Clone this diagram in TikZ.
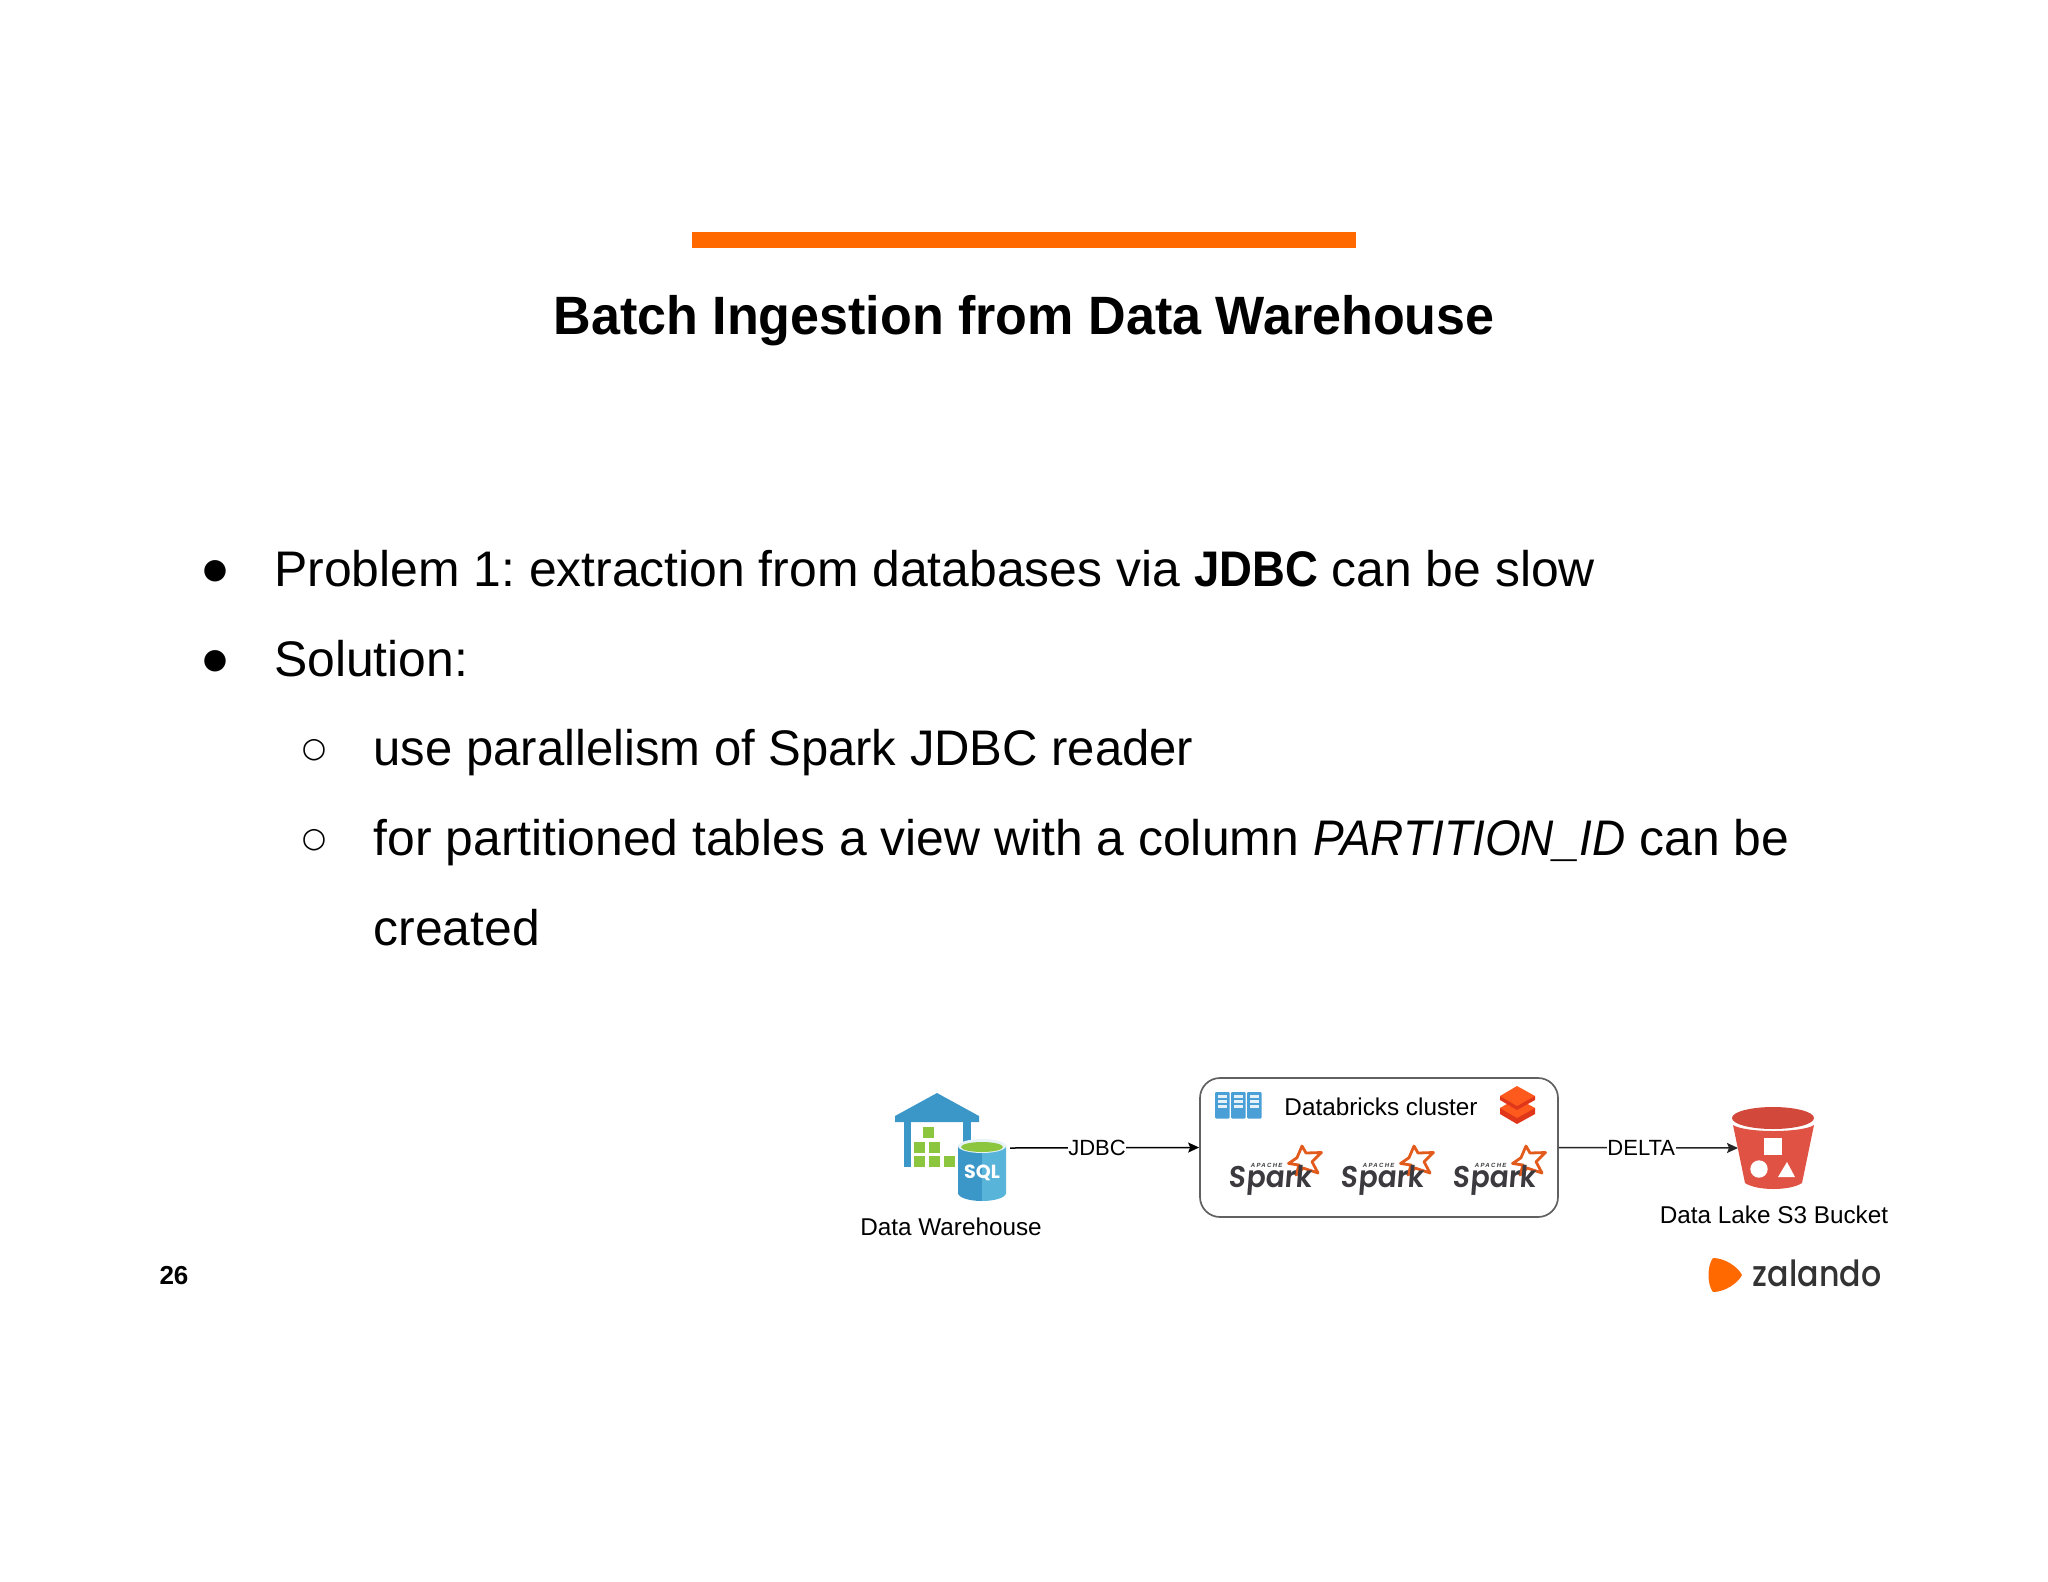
\documentclass[tikz,border=0pt]{standalone}
\usepackage{fontspec}
\setmainfont{Liberation Sans}[FakeStretch=0.997,BoldFeatures={FakeStretch=0.91},ItalicFeatures={FakeStretch=0.92}]
\newfontfamily\bodynarrow{Liberation Sans}[FakeStretch=0.98]
\newfontfamily\titlefont{Liberation Sans}[FakeStretch=0.964]
\newfontfamily\lblfont{Liberation Sans}
\newfontfamily\logofont{Poppins}
\newfontfamily\sparkfont{Poppins SemiBold}[FakeStretch=0.94,FakeSlant=0.08]
\newfontfamily\zalfont{Poppins Medium}[FakeStretch=0.88]
\newfontfamily\bulletfont{DejaVu Sans}
\newfontfamily\apachefont{Liberation Sans}[LetterSpace=22]
\frenchspacing
\usetikzlibrary{arrows.meta}
\definecolor{zorange}{HTML}{FF6900}
\definecolor{azure}{HTML}{3B97C8}
\definecolor{azurel}{HTML}{59B4D9}
\definecolor{rackblue}{HTML}{4A9FD6}
\definecolor{leaf}{HTML}{8CC63F}
\definecolor{bucketred}{HTML}{E05243}
\definecolor{bucketdark}{HTML}{D2493B}
\definecolor{sparkor}{HTML}{E25A1C}
\definecolor{sparkgr}{HTML}{3C3A3E}
\definecolor{dbtop}{HTML}{FF5A1E}
\definecolor{dbside}{HTML}{E0371A}
\tikzset{
  titletext/.style={font=\titlefont\fontsize{54}{54}\selectfont\bfseries,anchor=base},
  bodytext/.style={font=\fontsize{50}{50}\selectfont,anchor=base west,inner sep=0pt},
  bulletmark/.style={font=\bulletfont\fontsize{28}{28}\selectfont,inner sep=0pt},
  smalltext/.style={font=\lblfont\fontsize{24.3}{24.3}\selectfont,inner sep=0pt},
  conn/.style={line width=1.5pt,draw=black,-{Stealth[length=11pt,width=10pt,inset=2pt]}},
  connlabel/.style={font=\lblfont\fontsize{22}{22}\selectfont,fill=white,inner xsep=0.5pt,inner ysep=1pt},
  clusterbox/.style={draw=black!62,line width=1.7pt,rounded corners=20pt,minimum width=358pt,minimum height=139pt,inner sep=0pt},
  greenbox/.style={fill=leaf,draw=none,minimum size=11pt,inner sep=0pt},
  pics/sparklogo/.style={code={
    \draw[sparkor,line width=2.8pt,line join=round,fill=white]
      (34,-32) -- (38,-25) -- (53.5,-25.5) -- (44,-16.3) -- (50,-5) -- (35,-10) -- (28,-3) -- (31,-13) -- (20.5,-14.5) -- (29,-20.3) -- cycle;
    \node[font=\sparkfont\fontsize{30}{30}\selectfont,text=sparkgr,inner sep=0pt,anchor=base] (-word) at (2.5,9.5) {Spark};
    \node[font=\apachefont\fontsize{6}{6}\selectfont\bfseries\itshape,text=sparkgr,inner sep=0pt] (-apache) at (-1.3,-13) {APACHE};
  }},
  pics/serverrack/.style={code={
    \fill[rackblue,rounded corners=1pt] (0,0) rectangle (14.5,26.5);
    \foreach \r in {3,8,13}{\fill[white!85!rackblue] (2.5,\r) rectangle (12,\r+3);}
  }}
}
\begin{document}
\begin{tikzpicture}[x=1pt,y=-1pt]
\useasboundingbox (0,0) rectangle (2048,1582);
\fill[white] (0,0) rectangle (2048,1582);
\fill[zorange] (692,232) rectangle (1356,248);
\node[titletext] (title) at (1024,334) {Batch Ingestion from Data Warehouse};
% bullets
\node[bulletmark] (b1) at (215,571) {●};
\node[bulletmark] (b2) at (215,661) {●};
\node[bulletmark] (b3) at (314,750) {○};
\node[bulletmark] (b4) at (314,840) {○};
\node[bodytext] (l1) at (274,586) {Problem 1: extraction from databases via \textbf{JDBC} can be slow};
\node[bodytext] (l2) at (274,676) {Solution:};
\node[bodytext,font=\bodynarrow\fontsize{50}{50}\selectfont] (l3) at (373.5,765) {use parallelism of Spark JDBC reader};
\node[bodytext] (l4) at (373.5,855) {for partitioned tables a view with a column \textit{PARTITION\_ID} can be};
\node[bodytext] (l5) at (373.5,945) {created};
% data warehouse icon
\fill[azure] (937,1093) -- (979,1116) -- (979,1122) -- (895,1122) -- (895,1116) -- cycle;
\fill[azure] (904,1122) rectangle (911,1167);
\fill[azure] (963,1122) rectangle (971,1145);
\foreach \n/\cx/\cy in {ga/928/1132.5,gb/919/1147,gc/934/1147,gd/919/1161,ge/934/1161,gf/949/1161}{
  \node[greenbox] (\n) at (\cx,\cy) {};
}
\fill[azure] (982,1146) -- (958,1146) -- (958,1193) arc[start angle=180,end angle=90,x radius=24,y radius=8] -- cycle;
\fill[azurel] (982,1146) -- (1006,1146) -- (1006,1193) arc[start angle=0,end angle=90,x radius=24,y radius=8] -- cycle;
\fill[white!88!azure] (982,1146) ellipse[x radius=24,y radius=7];
\fill[leaf] (982,1147) ellipse[x radius=21,y radius=5];
\node[font=\logofont\fontsize{19}{19}\selectfont\bfseries,text=white,inner sep=0pt] (sql) at (982,1173) {SQL};
\coordinate (dwout) at (1010,1148);
\node[smalltext] (dwlabel) at (951,1227) {Data Warehouse};
% cluster
\node[clusterbox] (cluster) at (1379,1147.5) {};
\pic at (1215,1092) {serverrack};
\pic at (1231,1092) {serverrack};
\pic at (1247,1092) {serverrack};
\node[smalltext] (clusterlabel) at (1381,1107) {Databricks cluster};
% databricks icon
\fill[dbside] (1500,1108) -- (1500,1114) -- (1517,1124) -- (1535,1114) -- (1535,1108) -- cycle;
\fill[dbtop] (1500,1108) -- (1517,1098) -- (1535,1108) -- (1517,1118) -- cycle;
\fill[dbside] (1500,1096) -- (1500,1100) -- (1517,1110) -- (1535,1100) -- (1535,1096) -- cycle;
\fill[dbtop] (1517,1086) -- (1535,1096) -- (1517,1106) -- (1500,1096) -- cycle;
\pic (spa) at (1268,1178) {sparklogo};
\pic (spb) at (1380,1178) {sparklogo};
\pic (spc) at (1492,1178) {sparklogo};
% bucket
\fill[bucketred] (1733,1125) .. controls (1745,1133) and (1802,1133) .. (1814,1125) -- (1802,1183) .. controls (1790,1191) and (1757,1191) .. (1745,1183) -- cycle;
\fill[bucketdark] (1773,1118) ellipse[x radius=41,y radius=11];
\fill[white] (1764,1138) rectangle (1782,1155);
\fill[white] (1759,1169) circle[radius=8.7];
\fill[white] (1787,1162) -- (1795,1177) -- (1778,1177) -- cycle;
\coordinate (bucketin) at (1738,1148);
\node[smalltext] (bucketlabel) at (1774,1215) {Data Lake S3 Bucket};
% connectors
\draw[conn] (dwout) -- node[connlabel,pos=0.46] (jdbc) {JDBC} (cluster.west);
\draw[conn,draw=black!85] (cluster.east) -- node[connlabel,pos=0.46] (delta) {DELTA} (bucketin);
% footer
\node[font=\lblfont\fontsize{26}{26}\selectfont\bfseries,inner sep=0pt] (page) at (174,1276) {26};
\fill[zorange] (1713,1258) .. controls (1725,1258) and (1738,1267) .. (1742,1275) .. controls (1738,1283) and (1725,1292) .. (1713,1292) .. controls (1707,1285) and (1707,1265) .. (1713,1258) -- cycle;
\node[font=\zalfont\fontsize{36}{36}\selectfont,text=black!80,inner sep=0pt] (zal) at (1817,1273) {zalando};
\end{tikzpicture}
\end{document}
